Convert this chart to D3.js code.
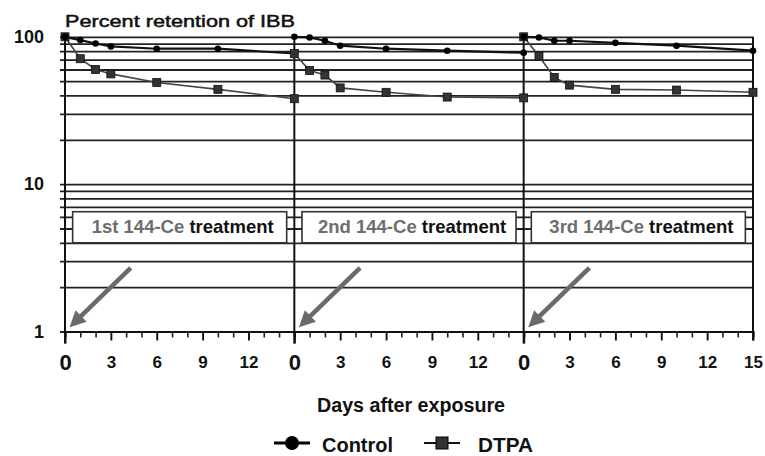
<!DOCTYPE html>
<html>
<head>
<meta charset="utf-8">
<script src="https://cdn.jsdelivr.net/npm/d3@7"></script>
<style>
  html, body { margin: 0; padding: 0; background: #fff; }
  svg { display: block; font-family: "Liberation Sans", Arial, sans-serif; }
</style>
</head>
<body>
<svg id="chart" width="765" height="456"></svg>
<script>
// ---------------- data ----------------
const days = [0, 1, 2, 3, 6, 10, 15];
const treatments = ["1st", "2nd", "3rd"];
const controlP1 = [100, 95, 90, 86, 83, 83, 77];
const dtpaP1    = [100, 71, 60, 56, 49, 44, 38];
const controlP2 = [100, 99, 94, 87, 83, 80.5, 78];
const dtpaP2    = [77, 59, 55, 45, 42, 39, 38.5];
const controlP3 = [100, 99, 94, 94, 91, 87, 80.5];
const dtpaP3    = [100, 74, 53, 47, 44, 43.5, 42];
const controlSeries = [controlP1, controlP2, controlP3];
const dtpaSeries = [dtpaP1, dtpaP2, dtpaP3];
const yLabelTicks = [1, 10, 100];
const yGridTicks = [1,2,3,4,5,6,7,8,9,10,20,30,40,50,60,70,80,90,100];
const xMajorTicks = [3, 6, 9, 12];
const xMinorTicks = [1,2,4,5,7,8,10,11,13,14];
// annotation geometry in data units (days, percent)
const boxRange = {d0: 0.5, d1: 14.5, v0: 4, v1: 6.5};
const arrowFrom = {day: 4.3, val: 2.7};
const arrowTo = {day: 0.3, val: 1.07};

// ---------------- layout ----------------
const svg = d3.select("#chart");
const left = 65, right = 753;
const panelW = (right - left) / 3;
const y = d3.scaleLog().domain([1, 100]).range([331.5, 36.8]);
const xs = [0, 1, 2].map(i => d3.scaleLinear().domain([0, 15]).range([left + i * panelW, left + (i + 1) * panelW]));

// gridlines
const grid = svg.append("g").attr("transform", `translate(${left - 5},0)`)
  .call(d3.axisRight(y).tickValues(yGridTicks).tickSize(right - left + 5).tickFormat(""));
grid.select(".domain").remove();
grid.selectAll("line").attr("stroke", "#222").attr("stroke-width", 1.8);

// y labels
const yAx = svg.append("g").attr("transform", `translate(${left},0)`)
  .call(d3.axisLeft(y).tickValues(yLabelTicks).tickSize(0).tickPadding(21).tickFormat(d3.format("d")));
yAx.select(".domain").remove();
yAx.selectAll("text").attr("font-size", 18).attr("font-weight", "bold").attr("fill", "#111")
  .attr("font-family", "Liberation Sans, Arial, sans-serif");

// x axes per panel
xs.forEach((x, i) => {
  const base = svg.append("g").attr("transform", `translate(0,${y(1)})`);
  const minor = base.append("g").call(d3.axisBottom(x).tickValues(xMinorTicks).tickSize(6).tickFormat(""));
  minor.select(".domain").attr("stroke", "#111").attr("stroke-width", 2);
  minor.selectAll(".tick line").attr("stroke", "#222").attr("stroke-width", 1.6);
  const majVals = i === 2 ? xMajorTicks.concat([15]) : xMajorTicks;
  const major = base.append("g").call(d3.axisBottom(x).tickValues(majVals).tickSize(9).tickPadding(15).tickFormat(d3.format("d")));
  major.select(".domain").remove();
  major.selectAll(".tick line").attr("stroke", "#111").attr("stroke-width", 1.9);
  major.selectAll("text").attr("font-size", 17).attr("font-weight", "bold").attr("fill", "#111")
    .attr("font-family", "Liberation Sans, Arial, sans-serif");
  const zero = base.append("g").call(d3.axisBottom(x).tickValues([0]).tickSize(12).tickPadding(11).tickFormat(d3.format("d")));
  zero.select(".domain").remove();
  zero.selectAll(".tick line").attr("stroke", "#111").attr("stroke-width", 2);
  zero.selectAll("text").attr("font-size", 22).attr("font-weight", "bold").attr("fill", "#111")
    .attr("font-family", "Liberation Sans, Arial, sans-serif");
  // vertical panel line
  svg.append("line").attr("x1", x(0)).attr("x2", x(0)).attr("y1", y(100)).attr("y2", y(1) + 12)
    .attr("stroke", "#111").attr("stroke-width", 2);
  if (i === 2) {
    svg.append("line").attr("x1", x(15)).attr("x2", x(15)).attr("y1", y(100)).attr("y2", y(1) + 9)
      .attr("stroke", "#111").attr("stroke-width", 2);
  }
});

// treatment boxes, text and arrows
const arrowColor = "#6a6a6a";
xs.forEach((x, i) => {
  svg.append("rect")
    .attr("x", x(boxRange.d0)).attr("y", y(boxRange.v1))
    .attr("width", x(boxRange.d1) - x(boxRange.d0)).attr("height", y(boxRange.v0) - y(boxRange.v1))
    .attr("fill", "#fff").attr("stroke", "#333").attr("stroke-width", 1.6);
  const t = svg.append("text").attr("x", x(7.7)).attr("y", y(boxRange.v0) - 9.5)
    .attr("text-anchor", "middle").attr("font-size", 18.5).attr("font-weight", "bold");
  t.append("tspan").attr("fill", "#6e6e6e").text(treatments[i] + " 144-Ce ");
  t.append("tspan").attr("fill", "#111").text("treatment");

  const xa = x(arrowFrom.day), ya = y(arrowFrom.val);
  const xb = x(arrowTo.day), yb = y(arrowTo.val);
  const ang = Math.atan2(yb - ya, xb - xa);
  const headL = 16, headW = 8;
  const bx = xb - headL * Math.cos(ang), by = yb - headL * Math.sin(ang);
  svg.append("line").attr("x1", xa).attr("y1", ya).attr("x2", bx + 2 * Math.cos(ang)).attr("y2", by + 2 * Math.sin(ang))
    .attr("stroke", arrowColor).attr("stroke-width", 4.5);
  const px = -Math.sin(ang), py = Math.cos(ang);
  svg.append("polygon")
    .attr("points", [[xb, yb], [bx + headW * px, by + headW * py], [bx - headW * px, by - headW * py]].map(p => p.join(",")).join(" "))
    .attr("fill", arrowColor);
});

// data lines and markers
const lineGen = (x) => d3.line().x((d, j) => x(days[j])).y(d => y(d));
xs.forEach((x, i) => {
  svg.append("path").datum(dtpaSeries[i]).attr("d", lineGen(x)).attr("fill", "none")
    .attr("stroke", "#444").attr("stroke-width", 1.6);
  svg.append("path").datum(controlSeries[i]).attr("d", lineGen(x)).attr("fill", "none")
    .attr("stroke", "#111").attr("stroke-width", 2.2);
  svg.append("g").selectAll("rect").data(dtpaSeries[i]).join("rect")
    .attr("x", (d, j) => x(days[j]) - 4).attr("y", d => y(d) - 4)
    .attr("width", 8).attr("height", 8).attr("fill", "#333").attr("stroke", "#111").attr("stroke-width", 0.8);
  svg.append("g").selectAll("circle").data(controlSeries[i]).join("circle")
    .attr("cx", (d, j) => x(days[j])).attr("cy", d => y(d)).attr("r", 3.3).attr("fill", "#000");
});

// titles
svg.append("text").attr("x", 65).attr("y", 27).attr("font-size", 17).attr("fill", "#111")
  .attr("stroke", "#111").attr("stroke-width", 0.5)
  .attr("textLength", 230).attr("lengthAdjust", "spacingAndGlyphs")
  .text("Percent retention of IBB");
svg.append("text").attr("x", 317).attr("y", 411.5).attr("font-size", 20).attr("font-weight", "bold").attr("fill", "#111")
  .attr("textLength", 188).attr("lengthAdjust", "spacingAndGlyphs")
  .text("Days after exposure");

// legend
const lg = svg.append("g");
lg.append("line").attr("x1", 274).attr("x2", 310).attr("y1", 443).attr("y2", 443).attr("stroke", "#000").attr("stroke-width", 3);
lg.append("circle").attr("cx", 292).attr("cy", 443).attr("r", 7).attr("fill", "#000");
lg.append("text").attr("x", 322).attr("y", 451.5).attr("font-size", 20).attr("font-weight", "bold").attr("fill", "#111")
  .attr("textLength", 71).attr("lengthAdjust", "spacingAndGlyphs").text("Control");
lg.append("line").attr("x1", 424).attr("x2", 460).attr("y1", 443).attr("y2", 443).attr("stroke", "#111").attr("stroke-width", 2);
lg.append("rect").attr("x", 436).attr("y", 437).attr("width", 12).attr("height", 12).attr("fill", "#333").attr("stroke", "#000").attr("stroke-width", 1);
lg.append("text").attr("x", 478).attr("y", 451.5).attr("font-size", 20).attr("font-weight", "bold").attr("fill", "#111")
  .attr("textLength", 55).attr("lengthAdjust", "spacingAndGlyphs").text("DTPA");
</script>
</body>
</html>
